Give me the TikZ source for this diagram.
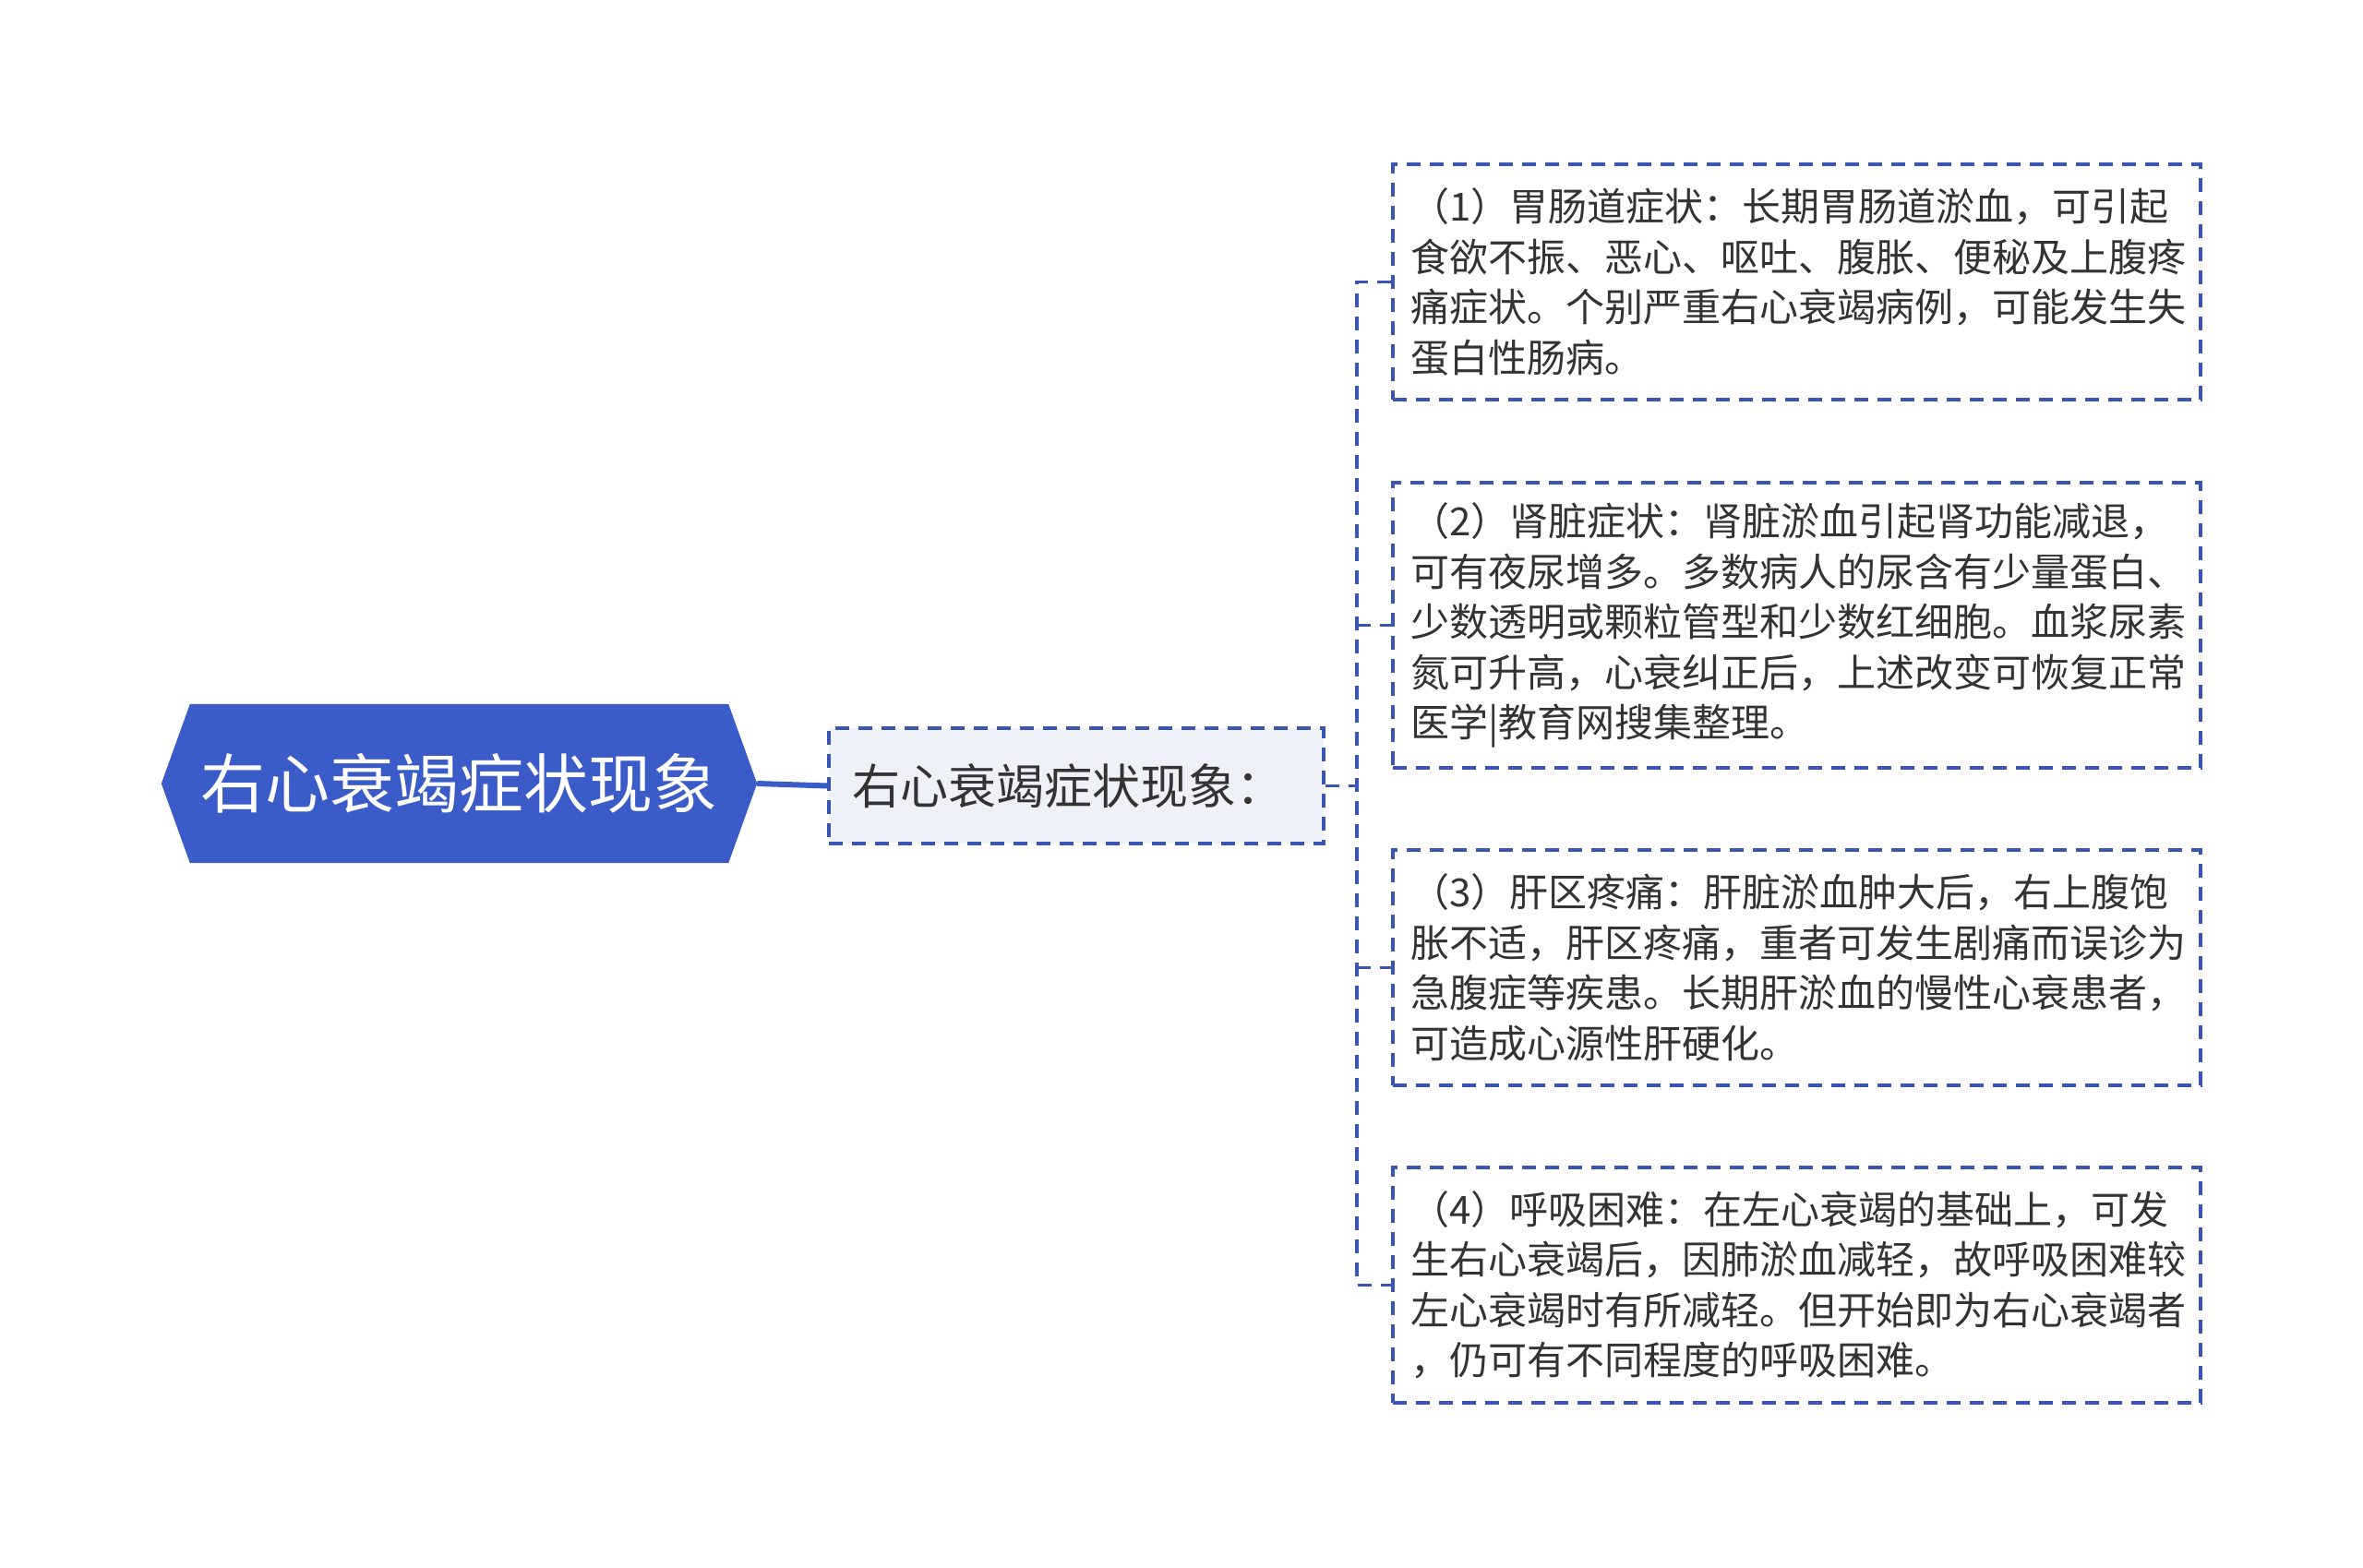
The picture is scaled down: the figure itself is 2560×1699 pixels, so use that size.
\documentclass[tikz,border=0pt]{standalone}
\usepackage{fontspec}
\setmainfont{Noto Sans CJK SC}
\usetikzlibrary{backgrounds}
\definecolor{rootblue}{HTML}{3B5BC8}
\definecolor{dashblue}{HTML}{3A56B2}
\definecolor{childfill}{HTML}{EEF1F5}
\definecolor{txt}{HTML}{333333}
\tikzset{
  dashline/.style={draw=dashblue, line width=3.2pt, dash pattern=on 15pt off 10pt},
  rootline/.style={draw=rootblue, line width=6pt},
  itembox/.style={dashline, fill=white, minimum width=875pt, inner sep=0pt},
  itemtext/.style={anchor=west, align=left, inner sep=0pt, text=txt, font=\fontsize{42}{54.5}\selectfont},
}
\begin{document}
\begin{tikzpicture}[x=1pt,y=-1pt]
\useasboundingbox (0,0) rectangle (2560,1699);
% root
\node[minimum width=645pt, minimum height=172pt, inner sep=0pt, text=white,
      font=\fontsize{70}{80}\selectfont] (root) at (497.5,849) {右心衰竭症状现象};
\begin{pgfonlayer}{background}
\fill[rootblue] (root.west) -- ([xshift=31pt]root.north west) -- ([xshift=-31pt]root.north east)
  -- (root.east) -- ([xshift=-31pt]root.south east) -- ([xshift=31pt]root.south west) -- cycle;
\end{pgfonlayer}
% child
\node[dashline, fill=childfill, minimum width=536pt, minimum height=125pt, inner sep=0pt] (child) at (1166,851.5) {};
\node[anchor=west, inner sep=0pt, text=txt, font=\fontsize{52}{60}\selectfont] (childtext) at ([xshift=27pt]child.west) {右心衰竭症状现象：};
% items
\node[itembox, minimum height=255pt] (b1) at (1946.5,305.5) {};
\node[itembox, minimum height=309pt] (b2) at (1946.5,677.5) {};
\node[itembox, minimum height=255pt] (b3) at (1946.5,1048.5) {};
\node[itembox, minimum height=255pt] (b4) at (1946.5,1392.5) {};
\node[itemtext] (t1) at ([xshift=21pt]b1.west) {（1）胃肠道症状：长期胃肠道淤血，可引起\\食欲不振、恶心、呕吐、腹胀、便秘及上腹疼\\痛症状。个别严重右心衰竭病例，可能发生失\\蛋白性肠病。};
\node[itemtext] (t2) at ([xshift=21pt]b2.west) {（2）肾脏症状：肾脏淤血引起肾功能减退，\\可有夜尿增多。多数病人的尿含有少量蛋白、\\少数透明或颗粒管型和少数红细胞。血浆尿素\\氮可升高，心衰纠正后，上述改变可恢复正常\\医学|教育网搜集整理。};
\node[itemtext] (t3) at ([xshift=21pt]b3.west) {（3）肝区疼痛：肝脏淤血肿大后，右上腹饱\\胀不适，肝区疼痛，重者可发生剧痛而误诊为\\急腹症等疾患。长期肝淤血的慢性心衰患者，\\可造成心源性肝硬化。};
\node[itemtext] (t4) at ([xshift=21pt]b4.west) {（4）呼吸困难：在左心衰竭的基础上，可发\\生右心衰竭后，因肺淤血减轻，故呼吸困难较\\左心衰竭时有所减轻。但开始即为右心衰竭者\\，仍可有不同程度的呼吸困难。};
% connectors
\coordinate (sp) at (1470,851.5);
\draw[rootline] (root.east) -- (child.west);
\draw[dashline] (child.east) -- (sp);
\draw[dashline] (b1.west) -- (sp |- b1.west) -- (sp |- b4.west) -- (b4.west);
\draw[dashline] (sp |- b2.west) -- (b2.west);
\draw[dashline] (sp |- b3.west) -- (b3.west);
\end{tikzpicture}
\end{document}
